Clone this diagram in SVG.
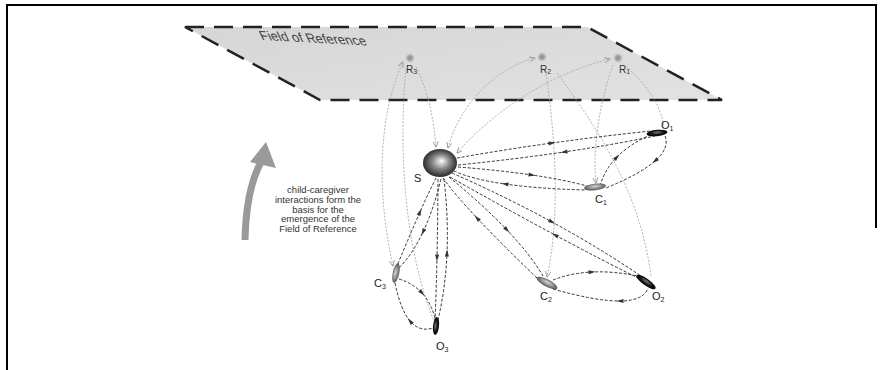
<svg xmlns="http://www.w3.org/2000/svg" width="885" height="370" viewBox="0 0 885 370">
<style>
  .lbl { font-family: "Liberation Sans", Arial, sans-serif; font-size: 11px; fill: #222; }
  .rlbl { font-family: "Liberation Sans", Arial, sans-serif; font-size: 10px; fill: #333; }
  .sub { font-size: 7px; }
  .note { font-family: "Liberation Sans", Arial, sans-serif; font-size: 9.5px; fill: #333; text-anchor: middle; }
  .dk { fill: none; stroke: #333; stroke-width: 1; stroke-dasharray: 3 1.8; }
  .gr { fill: none; stroke: #aaa; stroke-width: 0.9; stroke-dasharray: 2 1.5; }
  .ah { fill: #333; }
</style>
<defs>
  <radialGradient id="gS" cx="0.5" cy="0.5" r="0.55" fx="0.55" fy="0.42">
    <stop offset="0" stop-color="#ffffff"/>
    <stop offset="0.45" stop-color="#8a8a8a"/>
    <stop offset="1" stop-color="#1a1a1a"/>
  </radialGradient>
  <radialGradient id="gO" cx="0.5" cy="0.5" r="0.55" fx="0.5" fy="0.35">
    <stop offset="0" stop-color="#777"/>
    <stop offset="0.6" stop-color="#111"/>
    <stop offset="1" stop-color="#000"/>
  </radialGradient>
  <radialGradient id="gC" cx="0.5" cy="0.5" r="0.55" fx="0.5" fy="0.35">
    <stop offset="0" stop-color="#d8d8d8"/>
    <stop offset="0.6" stop-color="#888"/>
    <stop offset="1" stop-color="#444"/>
  </radialGradient>
  <radialGradient id="gR" cx="0.5" cy="0.5" r="0.5">
    <stop offset="0" stop-color="#8a8a8a"/>
    <stop offset="0.5" stop-color="#aaaaaa"/>
    <stop offset="1" stop-color="#dcdcdc" stop-opacity="0"/>
  </radialGradient>
  <linearGradient id="gPlane" x1="0" y1="0" x2="1" y2="1">
    <stop offset="0" stop-color="#d6d6d6"/>
    <stop offset="1" stop-color="#e2e2e2"/>
  </linearGradient>
  <marker id="mg" viewBox="0 0 6 6" refX="5.5" refY="3" markerWidth="6" markerHeight="6" markerUnits="userSpaceOnUse" orient="auto-start-reverse">
    <path d="M0,0.5 L6,3 L0,5.5" fill="none" stroke="#999" stroke-width="0.9"/>
  </marker>
  <path id="ah" d="M-3.5,-2 L3.5,0 L-3.5,2 Z"/>
</defs>

<!-- frame -->
<g id="frame" fill="none" stroke="#000" stroke-width="2">
  <path d="M7,370 L7,5 L876,5 L876,228"/>
</g>

<!-- field of reference plane -->
<g id="plane">
  <polygon points="185,27 587,27 722,100 320,100" fill="url(#gPlane)" stroke="#222" stroke-width="2.5" stroke-dasharray="19 10"/>
  <text transform="translate(262,40) rotate(3) skewX(28)" style="font-family:'Liberation Sans',Arial,sans-serif;font-size:13px;fill:#444">Field of Reference</text>
</g>

<!-- growth arrow and note -->
<g id="growth-arrow">
  <path d="M245,240 Q246,190 261,162" fill="none" stroke="#9a9a9a" stroke-width="7"/>
  <polygon points="266,142 276,168 250,162" fill="#9a9a9a"/>
</g>
<g id="note">
  <text class="note" x="318" y="193">child-caregiver</text>
  <text class="note" x="318" y="203">interactions form the</text>
  <text class="note" x="318" y="212.5">basis for the</text>
  <text class="note" x="318" y="222">emergence of the</text>
  <text class="note" x="318" y="232">Field of Reference</text>
</g>

<!-- connectors -->
<g id="connectors">
  <!-- grey reference links -->
  <path class="gr" d="M393,266 C378,200 376,120 403,62" marker-start="url(#mg)" marker-end="url(#mg)"/>
  <path class="gr" d="M406,69 C398,150 405,250 434,321"/>
  <path class="gr" d="M416,67 C428,90 434,120 436,147" marker-end="url(#mg)"/>
  <path class="gr" d="M448,148 C458,110 490,70 535,58" marker-start="url(#mg)" marker-end="url(#mg)"/>
  <path class="gr" d="M457,153 C490,115 545,75 610,59" marker-start="url(#mg)" marker-end="url(#mg)"/>
  <path class="gr" d="M546,74 C556,140 560,220 547,277" marker-end="url(#mg)"/>
  <path class="gr" d="M557,73 C595,125 640,190 651,276"/>
  <path class="gr" d="M613,65 C600,100 592,150 596,183" marker-end="url(#mg)"/>
  <path class="gr" d="M626,66 C645,85 660,100 664,128"/>

  <!-- dark interaction links -->
  <path class="dk" d="M457,158 Q550,141.5 651,131"/>
  <path class="dk" d="M458,165 Q571.5,153.5 655,136"/>
  <path class="dk" d="M458,167 Q541.5,173.5 587,186"/>
  <path class="dk" d="M454,171 Q490,187.5 586,190"/>
  <path class="dk" d="M600,186 Q609,153.5 650,135"/>
  <path class="dk" d="M665,136 Q674.5,160 606,188"/>
  <path class="dk" d="M452,173 Q557.5,219.5 641,276"/>
  <path class="dk" d="M450,177 Q563,241 644,281"/>
  <path class="dk" d="M443,178 Q464,208 537,278"/>
  <path class="dk" d="M449,177 Q518,233.5 543,276"/>
  <path class="dk" d="M436,178 Q423.5,202 397,266"/>
  <path class="dk" d="M441,179 Q426,240.5 399,268"/>
  <path class="dk" d="M438,179 Q437.5,266.5 435,320"/>
  <path class="dk" d="M444,179 Q453,256.5 438,320"/>
  <path class="dk" d="M553,280 Q588.5,266 638,276"/>
  <path class="dk" d="M553,289 Q639.5,313.5 648,288"/>
  <path class="dk" d="M399,279 Q427,287.5 435,318"/>
  <path class="dk" d="M395,283 Q406,336.5 433,328"/>

  <!-- mid arrowheads -->
  <use href="#ah" class="ah" transform="translate(552,143) rotate(-8)"/>
  <use href="#ah" class="ah" transform="translate(564,152) rotate(172)"/>
  <use href="#ah" class="ah" transform="translate(532,175) rotate(8)"/>
  <use href="#ah" class="ah" transform="translate(505,184) rotate(188)"/>
  <use href="#ah" class="ah" transform="translate(617,157) rotate(-46)"/>
  <use href="#ah" class="ah" transform="translate(655,161) rotate(139)"/>
  <use href="#ah" class="ah" transform="translate(552,222) rotate(29)"/>
  <use href="#ah" class="ah" transform="translate(555,235) rotate(208)"/>
  <use href="#ah" class="ah" transform="translate(477,218) rotate(227)"/>
  <use href="#ah" class="ah" transform="translate(507,230) rotate(46)"/>
  <use href="#ah" class="ah" transform="translate(420,212) rotate(-66)"/>
  <use href="#ah" class="ah" transform="translate(423,232) rotate(115)"/>
  <use href="#ah" class="ah" transform="translate(437,258) rotate(91)"/>
  <use href="#ah" class="ah" transform="translate(447,253) rotate(272)"/>
  <use href="#ah" class="ah" transform="translate(592,272) rotate(-3)"/>
  <use href="#ah" class="ah" transform="translate(620,301) rotate(180)"/>
  <use href="#ah" class="ah" transform="translate(422,293) rotate(47)"/>
  <use href="#ah" class="ah" transform="translate(410,321) rotate(230)"/>
</g>

<!-- reference nodes -->
<g id="node-R3">
  <circle cx="410" cy="58" r="5.5" fill="url(#gR)"/>
  <text class="rlbl" x="406" y="73">R<tspan class="sub" dy="1">3</tspan></text>
</g>
<g id="node-R2">
  <circle cx="542" cy="57" r="5.5" fill="url(#gR)"/>
  <text class="rlbl" x="540" y="73">R<tspan class="sub" dy="1">2</tspan></text>
</g>
<g id="node-R1">
  <circle cx="618" cy="58" r="5.5" fill="url(#gR)"/>
  <text class="rlbl" x="619" y="73">R<tspan class="sub" dy="1">1</tspan></text>
</g>

<!-- subject -->
<g id="node-S">
  <ellipse cx="440" cy="163" rx="17" ry="14" fill="url(#gS)"/>
  <text class="lbl" x="414" y="182">S</text>
</g>

<!-- objects and caregivers -->
<g id="node-O1">
  <ellipse cx="657" cy="133" rx="10.5" ry="3.2" transform="rotate(-5 657 133)" fill="url(#gO)"/>
  <text class="lbl" x="661" y="129">O<tspan class="sub" dy="1.5">1</tspan></text>
</g>
<g id="node-C1">
  <ellipse cx="595" cy="187" rx="11" ry="3.3" transform="rotate(-6 595 187)" fill="url(#gC)"/>
  <text class="lbl" x="595" y="203">C<tspan class="sub" dy="1.5">1</tspan></text>
</g>
<g id="node-C2">
  <ellipse cx="547" cy="283" rx="11.5" ry="3.6" transform="rotate(28 547 283)" fill="url(#gC)"/>
  <text class="lbl" x="540" y="300">C<tspan class="sub" dy="1.5">2</tspan></text>
</g>
<g id="node-O2">
  <ellipse cx="646" cy="282" rx="11.5" ry="3.4" transform="rotate(35 646 282)" fill="url(#gO)"/>
  <text class="lbl" x="652" y="300">O<tspan class="sub" dy="1.5">2</tspan></text>
</g>
<g id="node-C3">
  <ellipse cx="396" cy="273" rx="10" ry="3.2" transform="rotate(-78 396 273)" fill="url(#gC)"/>
  <text class="lbl" x="374" y="287">C<tspan class="sub" dy="1.5">3</tspan></text>
</g>
<g id="node-O3">
  <ellipse cx="436" cy="326" rx="9" ry="3" transform="rotate(-84 436 326)" fill="url(#gO)"/>
  <text class="lbl" x="436" y="350">O<tspan class="sub" dy="1.5">3</tspan></text>
</g>
</svg>
